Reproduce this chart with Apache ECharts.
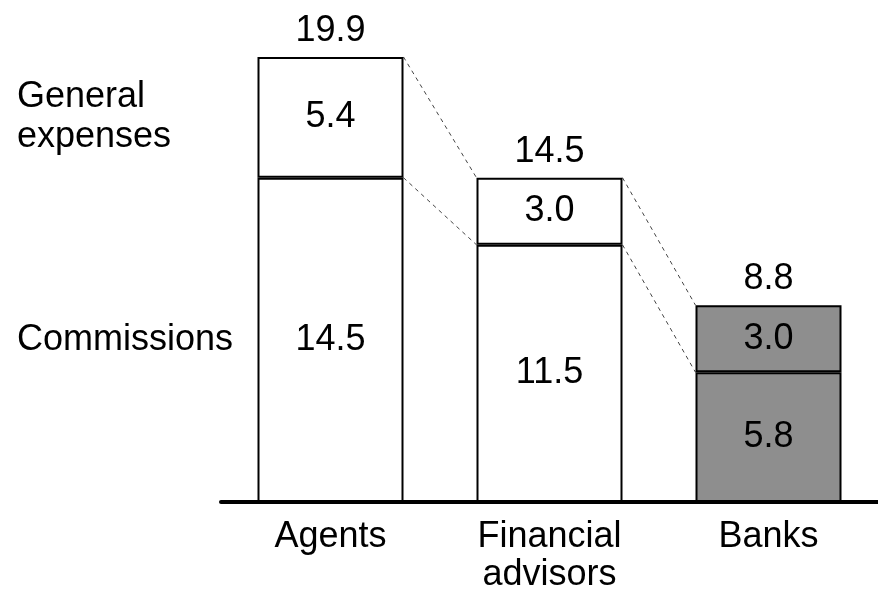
<!DOCTYPE html>
<html>
<head>
<meta charset="utf-8">
<script src="https://cdn.jsdelivr.net/npm/echarts@6/dist/echarts.min.js"></script>
<style>
  html, body { margin: 0; padding: 0; background: #fff; }
  #chart { width: 878px; height: 600px; }
</style>
</head>
<body>
<div id="chart"></div>
<script>
// data
var categories = ['Agents', 'Financial\nadvisors', 'Banks'];
var commissions = [14.5, 11.5, 5.8];
var generalExpenses = [5.4, 3.0, 3.0];
var totals = [19.9, 14.5, 8.8];
var sideLabels = ['Commissions', 'General\nexpenses'];

var FONT = 'Liberation Sans, Arial, sans-serif';
var FONT_SIZE = 36;
var BAR_W = 146;
var BANK_GREY = '#8e8e8e';

function fillColor(params) {
    return params.dataIndex === 2 ? BANK_GREY : '#ffffff';
}

// dashed connectors between neighbouring bars
var connectors = [];
for (var i = 0; i < categories.length - 1; i++) {
    connectors.push([i, totals[i], totals[i + 1]]);
    connectors.push([i, commissions[i], commissions[i + 1]]);
}

var chart = echarts.init(document.getElementById('chart'));
var option = {
    animation: false,
    textStyle: { fontFamily: FONT },
    grid: { left: 221, right: 0, top: 10, bottom: 98 },
    xAxis: {
        type: 'category',
        data: categories,
        axisLine: { lineStyle: { color: '#000', width: 4 } },
        axisTick: { show: false },
        axisLabel: {
            color: '#000',
            fontSize: FONT_SIZE,
            fontFamily: FONT,
            lineHeight: 38,
            margin: 16
        }
    },
    yAxis: {
        type: 'value',
        min: 0,
        max: 22,
        show: false,
        splitLine: { show: false }
    },
    series: [
        {
            name: 'Commissions',
            type: 'bar',
            stack: 'cost',
            barWidth: BAR_W,
            data: commissions,
            itemStyle: { color: fillColor, borderColor: '#000', borderWidth: 2 },
            label: {
                show: true,
                position: 'inside',
                color: '#000',
                fontSize: FONT_SIZE,
                fontFamily: FONT,
                formatter: function (p) { return p.value.toFixed(1); }
            }
        },
        {
            name: 'General expenses',
            type: 'bar',
            stack: 'cost',
            barWidth: BAR_W,
            data: generalExpenses,
            itemStyle: { color: fillColor, borderColor: '#000', borderWidth: 2 },
            label: {
                show: true,
                position: 'inside',
                color: '#000',
                fontSize: FONT_SIZE,
                fontFamily: FONT,
                formatter: function (p) { return p.value.toFixed(1); }
            }
        },
        {
            // connector lines
            type: 'custom',
            silent: true,
            clip: false,
            z: 1,
            encode: { x: 0, y: 1 },
            data: connectors,
            renderItem: function (params, api) {
                var idx = api.value(0);
                var p1 = api.coord([idx, api.value(1)]);
                var p2 = api.coord([idx + 1, api.value(2)]);
                return {
                    type: 'line',
                    shape: { x1: p1[0] + BAR_W / 2, y1: p1[1], x2: p2[0] - BAR_W / 2, y2: p2[1] },
                    style: { stroke: '#444', lineWidth: 1, lineDash: [4, 4] }
                };
            }
        },
        {
            // totals above bars
            type: 'custom',
            silent: true,
            clip: false,
            encode: { x: 0, y: 1 },
            data: totals.map(function (t, i) { return [i, t]; }),
            renderItem: function (params, api) {
                var p = api.coord([api.value(0), api.value(1)]);
                return {
                    type: 'text',
                    x: p[0],
                    y: p[1] - 26,
                    style: {
                        text: api.value(1).toFixed(1),
                        fill: '#000',
                        fontSize: FONT_SIZE,
                        fontFamily: FONT,
                        align: 'center',
                        verticalAlign: 'middle'
                    }
                };
            }
        },
        {
            // segment names on the left
            type: 'custom',
            silent: true,
            clip: false,
            encode: { x: 0, y: 1 },
            data: [
                [0, commissions[0] / 2, 0],
                [0, commissions[0] + generalExpenses[0] / 2, 1]
            ],
            renderItem: function (params, api) {
                var p = api.coord([api.value(0), api.value(1)]);
                return {
                    type: 'text',
                    x: 17,
                    y: p[1],
                    style: {
                        text: sideLabels[api.value(2)],
                        fill: '#000',
                        fontSize: FONT_SIZE,
                        fontFamily: FONT,
                        lineHeight: 40,
                        align: 'left',
                        verticalAlign: 'middle'
                    }
                };
            }
        }
    ]
};
chart.setOption(option);
</script>
</body>
</html>
